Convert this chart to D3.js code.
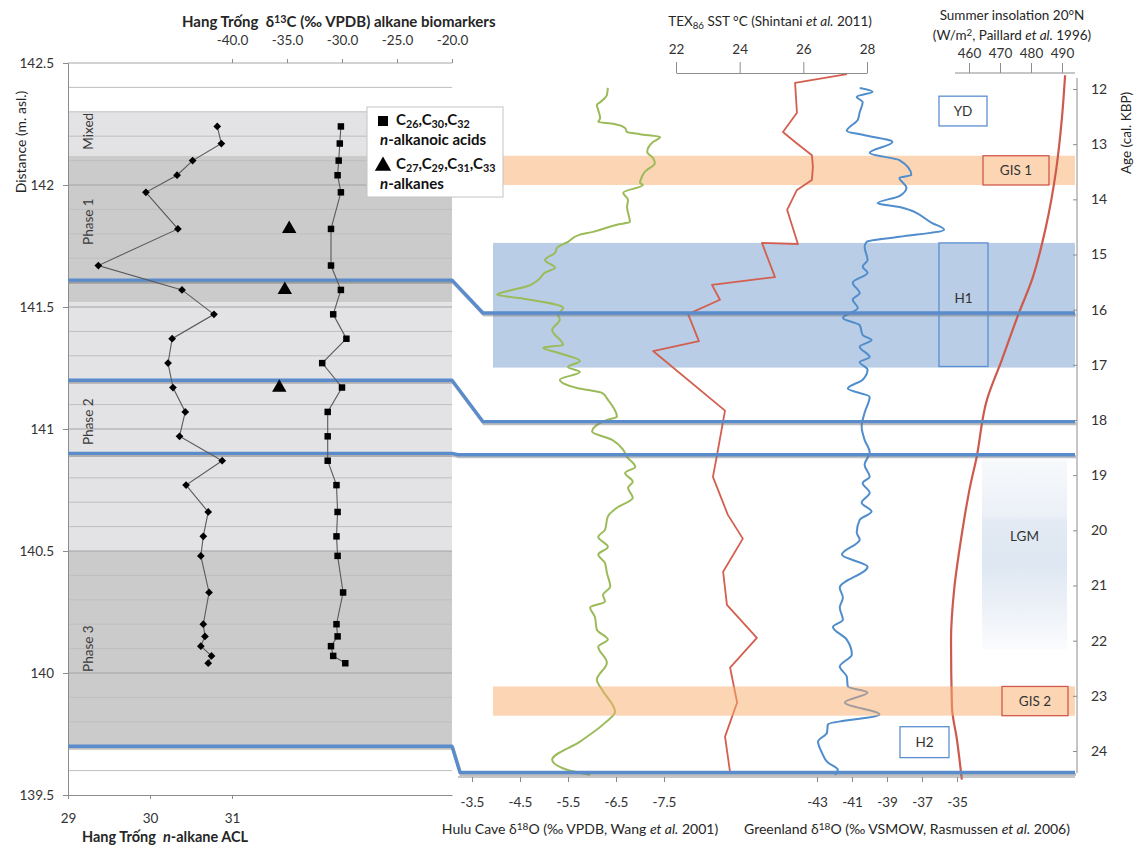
<!DOCTYPE html>
<html>
<head>
<meta charset="utf-8">
<script src="https://cdn.jsdelivr.net/npm/d3@7"></script>
<style>
  body { margin: 0; background: #fff; }
</style>
</head>
<body>
<svg id="chart" width="1135" height="846"></svg>
<script>
// ---------------- data ----------------
// Hang Trong samples (depth in m asl)
var sampleDepth = [142.24, 142.17, 142.10, 142.04, 141.97, 141.82, 141.67, 141.57, 141.47, 141.37,
                   141.27, 141.17, 141.07, 140.97, 140.87, 140.77, 140.66, 140.56, 140.48, 140.33,
                   140.20, 140.15, 140.11, 140.07, 140.04];
var alkaneACL   = [30.82, 30.87, 30.52, 30.33, 29.95, 30.34, 29.37, 30.39, 30.78, 30.27,
                   30.22, 30.28, 30.43, 30.36, 30.88, 30.44, 30.71, 30.65, 30.62, 30.72,
                   30.65, 30.67, 30.62, 30.75, 30.71];
var acidD13C    = [-30.1, -30.2, -30.3, -30.4, -30.1, -31.0, -31.0, -30.1, -30.8, -29.6,
                   -31.8, -30.0, -31.3, -31.3, -31.3, -30.5, -30.4, -30.5, -30.4, -29.9,
                   -30.5, -30.4, -31.0, -30.8, -29.7];
var alkaneDepth = [141.82, 141.57, 141.17];
var alkaneD13C  = [-34.8, -35.2, -35.7];

// stratigraphic units
var unitTop    = [142.30, 142.12, 141.52, 140.50];
var unitBottom = [142.12, 141.52, 140.50, 139.70];
var phaseNames = ["Mixed", "Phase 1", "Phase 2", "Phase 3"];
var phaseLabelDepth = [142.22, 141.85, 141.03, 140.10];

// depth -> age tie lines
var tieDepth = [141.61, 141.20, 140.90, 139.70];
var tieAge   = [16.06, 18.03, 18.63, 24.39];

// Hulu Cave d18O
var huluAge = [11.98,12.11,12.24,12.29,12.38,12.53,12.60,12.63,12.71,12.78,12.82,12.87,12.96,13.14,13.25,
  13.34,13.50,13.59,13.70,13.74,13.88,14.01,14.14,14.41,14.46,14.59,14.64,14.77,14.88,14.97,15.10,15.24,
  15.33,15.46,15.59,15.64,15.73,15.79,15.97,16.09,16.18,16.37,16.64,16.69,16.78,16.93,17.04,17.13,17.27,
  17.42,17.51,17.63,17.94,18.00,18.21,18.36,18.54,18.67,18.85,18.96,19.12,19.23,19.41,19.59,19.75,19.99,
  20.12,20.30,20.44,20.59,20.77,21.02,21.17,21.29,21.40,21.57,21.80,21.98,22.11,22.40,22.71,22.89,23.29,
  23.49,23.83,24.16,24.34,24.43];
var huluD18O = [-6.33,-6.31,-6.17,-6.10,-6.13,-6.17,-6.13,-6.44,-6.69,-6.73,-7.00,-7.42,-7.27,-7.15,-7.27,
  -7.31,-7.10,-7.04,-7.00,-7.06,-6.65,-6.75,-6.73,-6.79,-6.52,-6.02,-5.75,-5.50,-5.27,-5.23,-5.02,-5.23,
  -5.02,-4.88,-4.60,-4.35,-4.02,-4.50,-5.40,-5.29,-5.33,-5.17,-5.40,-4.98,-5.29,-5.75,-5.50,-5.75,-5.33,
  -5.69,-6.21,-6.33,-6.52,-6.31,-6.00,-6.42,-6.65,-6.73,-6.90,-6.69,-6.85,-6.75,-6.85,-6.52,-6.33,-6.27,
  -6.13,-6.33,-6.13,-6.27,-6.31,-6.38,-6.23,-6.27,-5.96,-6.06,-6.10,-6.33,-6.13,-6.31,-6.10,-6.21,-6.48,
  -6.27,-5.75,-5.17,-5.48,-5.96];

// TEX86 SST
var texAge = [11.73,11.89,12.43,12.78,12.96,13.20,13.41,13.65,13.83,14.19,14.81,14.79,15.41,15.55,15.82,
  16.08,16.57,16.75,17.83,18.63,19.03,19.72,20.15,20.75,21.35,21.95,22.49,23.12,23.74,24.39];
var texSST = [27.37,25.74,25.80,25.36,25.74,26.27,26.30,26.27,25.80,25.49,25.83,24.70,25.11,23.13,23.38,
  22.38,22.72,21.28,23.54,23.29,23.16,23.63,24.10,23.48,23.60,24.54,23.70,23.92,23.54,23.70];

// Greenland d18O
var grlAge = [11.98,12.05,12.14,12.24,12.42,12.56,12.76,12.83,12.96,13.16,13.29,13.56,13.61,13.79,13.94,
  14.07,14.14,14.43,14.55,14.68,14.77,14.86,15.10,15.22,15.33,15.51,15.70,15.82,15.97,16.15,16.28,16.46,
  16.55,16.67,16.86,16.95,17.09,17.27,17.43,17.58,17.87,18.12,18.36,18.59,18.81,19.03,19.14,19.32,19.50,
  19.66,19.81,20.04,20.17,20.44,20.66,21.04,21.22,21.40,21.62,21.75,21.98,22.25,22.47,22.65,22.83,22.94,
  23.12,23.34,23.52,23.67,23.83,24.03,24.21,24.34,24.43];
var grlD18O = [-40.56,-39.82,-40.73,-40.39,-40.56,-40.67,-41.30,-40.39,-38.69,-39.99,-38.29,-37.61,-38.29,
  -37.89,-38.29,-39.54,-38.29,-36.42,-35.74,-38.29,-40.16,-40.28,-40.11,-40.39,-40.11,-40.96,-40.56,-40.96,
  -40.67,-41.52,-40.56,-40.39,-39.88,-40.56,-39.99,-40.56,-40.11,-40.39,-41.24,-39.99,-40.28,-40.45,-40.28,
  -39.99,-40.28,-39.99,-40.39,-39.99,-40.45,-39.88,-40.56,-40.73,-40.56,-41.58,-40.11,-41.70,-41.52,-41.70,
  -41.52,-42.09,-41.30,-41.01,-41.70,-41.30,-41.24,-40.11,-41.41,-39.43,-42.38,-42.43,-42.94,-42.72,-42.38,
  -41.81,-41.98];

// summer insolation 20N
var insolAge   = [11.75,12.51,13.47,14.50,15.46,16.06,16.91,17.63,18.72,19.14,20.17,21.08,21.98,23.20,23.79,24.52];
var insolValue = [491.0,490.0,488.1,484.8,480.3,476.1,470.6,465.8,462.3,460.6,457.4,455.2,454.2,454.5,456.1,457.7];

// climate events (ages in ka)
var bandNames  = ["GIS 1", "H1", "GIS 2"];
var bandTop    = [13.21, 14.79, 22.83];
var bandBottom = [13.74, 17.05, 23.36];
var eventNames  = ["YD", "GIS 1", "H1", "LGM", "GIS 2", "H2"];
var eventTop    = [12.13, 13.21, 14.79, 18.72, 22.83, 23.56];
var eventBottom = [12.67, 13.74, 17.03, 22.16, 23.36, 24.12];
var eventLabelAge = [12.40, 13.48, 15.79, 20.12, 23.10, 23.84];

// tick labels
var depthTicks = [139.5, 140, 140.5, 141, 141.5, 142, 142.5];
var aclTicks   = [29, 30, 31];
var d13cTicks  = [-40, -35, -30, -25, -20];
var huluTicks  = [-3.5, -4.5, -5.5, -6.5, -7.5];
var texTicks   = [22, 24, 26, 28];
var grlTicks   = [-43, -41, -39, -37, -35];
var insolTicks = [460, 470, 480, 490];
var ageTicks   = [12, 13, 14, 15, 16, 17, 18, 19, 20, 21, 22, 23, 24];

// ---------------- layout ----------------
var FONT = "Lato, 'Open Sans', sans-serif";
var L0 = 68, L1 = 452;        // left panel x extent
var R0 = 493, R1 = 1075;      // right panel band extent
var tieJoinX = [483, 483, 458, 460];
var eventBoxX = [[939, 987], [983, 1049], [939, 988], [982, 1067], [1002, 1068], [900, 949]];
var eventStyle = ["blue", "red", "open", "lgm", "red", "blue"];
var BLUE = "#5a8ccc", ORANGE = "#fcd6b4";

var svg = d3.select("#chart");
svg.append("rect").attr("width", 1135).attr("height", 846).attr("fill", "#fff");

function rich(sel, parts, subShift) {
  var shift = 0, down = subShift || 3;
  parts.forEach(function(p) {
    var s = sel.append("tspan").text(p.t);
    var target = p.sup ? -4 : (p.sub ? down : 0);
    if (target !== shift) { s.attr("dy", target - shift); shift = target; }
    if (p.sup || p.sub) s.attr("font-size", "0.72em");
    if (p.it) s.attr("font-style", "italic");
  });
  return sel;
}
function label(x, y, opts) {
  return svg.append("text").attr("x", x).attr("y", y)
    .attr("font-family", FONT).attr("font-size", opts.size || 13)
    .attr("font-weight", opts.bold ? "bold" : null)
    .attr("text-anchor", opts.anchor || "middle")
    .attr("fill", opts.fill || "#262626")
    .style("white-space", "pre");
}
function styleAxis(g, keepDomain, size) {
  g.attr("font-family", FONT).attr("font-size", size || 13.5);
  if (!keepDomain) g.select(".domain").remove();
  g.select(".domain").attr("stroke", "#8c8c8c");
  g.selectAll(".tick line").attr("stroke", "#8c8c8c");
  g.selectAll(".tick text").attr("fill", "#333");
}
var plain = function(d) { return String(d); };

// ---------------- scales ----------------
var depthY = d3.scaleLinear().domain([139.5, 142.5]).range([795, 63]);
var aclX = d3.scaleLinear().domain([29, 31]).range([68, 232]);
aclX.domain([29, aclX.invert(L1)]).range([L0, L1]);
var d13cX = d3.scaleLinear().domain([-40, -20]).range([232, 452]);

var ageY   = d3.scaleLinear().domain([12, 24]).range([89, 751]);
var huluX  = d3.scaleLinear().domain([-3.5, -7.5]).range([472, 664]);
var texX   = d3.scaleLinear().domain([22, 28]).range([676, 867]);
var grlX   = d3.scaleLinear().domain([-43, -35]).range([817, 957]);
var insolX = d3.scaleLinear().domain([460, 490]).range([969, 1062]);

// ---------------- left panel ----------------
svg.append("g").selectAll("rect")
  .data(d3.range(unitTop.length))
  .enter().append("rect")
    .attr("x", L0).attr("width", L1 - L0)
    .attr("y", function(i) { return depthY(unitTop[i]); })
    .attr("height", function(i) { return depthY(unitBottom[i]) - depthY(unitTop[i]); })
    .attr("fill", function(i) { return i % 2 ? "#cbcbcb" : "#e3e3e5"; });

var gridVals = d3.range(1, 30).map(function(i) { return +(139.5 + i * 0.1).toFixed(1); });
svg.append("g").selectAll("line")
  .data(gridVals)
  .enter().append("line")
    .attr("x1", L0).attr("x2", L1)
    .attr("y1", function(d) { return depthY(d); })
    .attr("y2", function(d) { return depthY(d); })
    .attr("stroke", function(d) { return Math.abs(d * 2 - Math.round(d * 2)) < 1e-6 ? "#a3a3a3" : "#bfbfbf"; })
    .attr("stroke-width", 1);

svg.append("line").attr("x1", L0).attr("x2", L1).attr("y1", 63).attr("y2", 63).attr("stroke", "#a6a6a6");

var gL = svg.append("g").attr("transform", "translate(" + L0 + ",0)")
  .call(d3.axisLeft(depthY).tickValues(depthTicks).tickSize(5).tickPadding(9).tickFormat(plain));
styleAxis(gL, true);
var gB = svg.append("g").attr("transform", "translate(0,795)")
  .call(d3.axisBottom(aclX).tickValues(aclTicks).tickSize(4).tickSizeOuter(0).tickPadding(14).tickFormat(plain));
styleAxis(gB, true);
var gT = svg.append("g").attr("transform", "translate(0,63)")
  .call(d3.axisTop(d13cX).tickValues(d13cTicks).tickSize(4).tickPadding(14).tickFormat(function(d) { return d.toFixed(1); }));
styleAxis(gT, false);

// phase labels
phaseNames.forEach(function(name, i) {
  label(0, 0, {size: 13.5, fill: "#3a3a3a"})
    .attr("transform", "translate(" + 93 + "," + depthY(phaseLabelDepth[i]) + ") rotate(-90)")
    .text(name);
});

// axis titles
rich(label(182, 27, {bold: true, size: 15, anchor: "start"}), [
  {t: "Hang Trống  δ"}, {t: "13", sup: true}, {t: "C (‰ VPDB) alkane biomarkers"}]);
rich(label(82, 842, {bold: true, size: 14.5, anchor: "start"}), [
  {t: "Hang Trống  "}, {t: "n", it: true}, {t: "-alkane ACL"}]);
label(0, 0, {size: 14}).attr("transform", "translate(26,142) rotate(-90)").text("Distance (m. asl.)");

// ---------------- right panel ----------------
// H1 and GIS 1 bands under the curves
[0, 1].forEach(function(i) {
  svg.append("rect")
    .attr("x", R0).attr("width", R1 - R0)
    .attr("y", ageY(bandTop[i])).attr("height", ageY(bandBottom[i]) - ageY(bandTop[i]))
    .attr("fill", bandNames[i] === "H1" ? "#bacde6" : ORANGE);
});

// LGM gradient
var defs = svg.append("defs");
var grad = defs.append("linearGradient").attr("id", "lgm").attr("x1", 0).attr("x2", 0).attr("y1", 0).attr("y2", 1);
[[0, "#f7f9fc"], [0.3, "#ebf0f7"], [0.32, "#e3eaf3"], [0.55, "#dee7f2"], [0.8, "#eef2f8"], [1, "#fbfcfe"]]
  .forEach(function(s) { grad.append("stop").attr("offset", s[0]).attr("stop-color", s[1]); });

function idx(a, b) { return d3.range(Math.min(a.length, b.length)); }

// insolation
svg.append("path")
  .datum(idx(insolAge, insolValue))
  .attr("d", d3.line().curve(d3.curveMonotoneY)
    .x(function(i) { return insolX(insolValue[i]); })
    .y(function(i) { return ageY(insolAge[i]); }))
  .attr("fill", "none").attr("stroke", "#cd5a4d").attr("stroke-width", 2.2);

// Hulu cave
svg.append("path")
  .datum(idx(huluAge, huluD18O))
  .attr("d", d3.line().curve(d3.curveMonotoneY)
    .x(function(i) { return huluX(huluD18O[i]); })
    .y(function(i) { return ageY(huluAge[i]); }))
  .attr("fill", "none").attr("stroke", "#9bbb59").attr("stroke-width", 2)
  .attr("stroke-linejoin", "round");

// TEX86
svg.append("path")
  .datum(idx(texAge, texSST))
  .attr("d", d3.line()
    .x(function(i) { return texX(texSST[i]); })
    .y(function(i) { return ageY(texAge[i]); }))
  .attr("fill", "none").attr("stroke", "#d35f50").attr("stroke-width", 1.8)
  .attr("stroke-linejoin", "round");

// Greenland
svg.append("path")
  .datum(idx(grlAge, grlD18O))
  .attr("d", d3.line().curve(d3.curveMonotoneY)
    .x(function(i) { return grlX(grlD18O[i]); })
    .y(function(i) { return ageY(grlAge[i]); }))
  .attr("fill", "none").attr("stroke", "#4f8dcc").attr("stroke-width", 2)
  .attr("stroke-linejoin", "round");

// GIS 2 band drawn over the curves (semi-transparent)
svg.append("rect")
  .attr("x", R0).attr("width", R1 - R0)
  .attr("y", ageY(bandTop[2])).attr("height", ageY(bandBottom[2]) - ageY(bandTop[2]))
  .attr("fill", "#f9ac6b").attr("opacity", 0.5);

// right axes
var gTex = svg.append("g").attr("transform", "translate(0,73)")
  .call(d3.axisTop(texX).tickValues(texTicks).tickSize(11).tickSizeOuter(0).tickPadding(8).tickFormat(plain));
styleAxis(gTex, true);

svg.append("line").attr("x1", 955).attr("x2", R1).attr("y1", 73).attr("y2", 73).attr("stroke", "#8c8c8c");
var gIns = svg.append("g").attr("transform", "translate(0,73)")
  .call(d3.axisTop(insolX).tickValues(insolTicks).tickSize(10).tickPadding(5).tickFormat(plain));
styleAxis(gIns, false);

svg.append("line").attr("x1", 1077).attr("x2", 1077).attr("y1", ageY(11.8)).attr("y2", ageY(24.4)).attr("stroke", "#8c8c8c");
var gAge = svg.append("g").attr("transform", "translate(1077,0)")
  .call(d3.axisRight(ageY).tickValues(ageTicks).tickSizeInner(-4).tickSizeOuter(0).tickPadding(14).tickFormat(plain));
styleAxis(gAge, false, 14);

svg.append("line").attr("x1", 458).attr("x2", R1).attr("y1", 777).attr("y2", 777).attr("stroke", "#8c8c8c");
var gHulu = svg.append("g").attr("transform", "translate(0,777)")
  .call(d3.axisBottom(huluX).tickValues(huluTicks).tickSize(5).tickPadding(15).tickFormat(function(d) { return d.toFixed(1); }));
styleAxis(gHulu, false);
var gGrl = svg.append("g").attr("transform", "translate(0,777)")
  .call(d3.axisBottom(grlX).tickValues(grlTicks).tickSize(5).tickPadding(15).tickFormat(plain));
styleAxis(gGrl, false);

// right titles
rich(label(770, 26, {size: 13.5}), [
  {t: "TEX"}, {t: "86", sub: true}, {t: " SST °C (Shintani "}, {t: "et al.", it: true}, {t: " 2011)"}]);
label(1012, 20, {size: 13.5}).text("Summer insolation 20°N");
rich(label(1012, 40, {size: 13.5}), [
  {t: "(W/m"}, {t: "2", sup: true}, {t: ", Paillard "}, {t: "et al.", it: true}, {t: " 1996)"}]);
rich(label(580, 834, {size: 14}), [
  {t: "Hulu Cave δ"}, {t: "18", sup: true}, {t: "O (‰ VPDB, Wang "}, {t: "et al.", it: true}, {t: " 2001)"}]);
rich(label(907, 834, {size: 14}), [
  {t: "Greenland δ"}, {t: "18", sup: true}, {t: "O (‰ VSMOW, Rasmussen "}, {t: "et al.", it: true}, {t: " 2006)"}]);
label(0, 0, {size: 13.5}).attr("transform", "translate(1131,133) rotate(-90)").text("Age (cal. KBP)");

// ---------------- tie lines ----------------
function tiePath(i) {
  var yd = depthY(tieDepth[i]), ya = ageY(tieAge[i]);
  return [[L0, yd], [L1, yd], [tieJoinX[i], ya], [R1, ya]];
}
var tieLine = d3.line();
var ties = svg.append("g");
d3.range(tieDepth.length).forEach(function(i) {
  ties.append("path").attr("d", tieLine(tiePath(i)))
    .attr("transform", "translate(1,2)")
    .attr("fill", "none").attr("stroke", "#6f6f6f").attr("stroke-opacity", 0.45)
    .attr("stroke-width", 3.2);
  ties.append("path").attr("d", tieLine(tiePath(i)))
    .attr("fill", "none").attr("stroke", BLUE).attr("stroke-width", 3.4)
    .attr("stroke-linejoin", "round");
});

// ---------------- left markers ----------------
var idxS = idx(sampleDepth, alkaneACL);
svg.append("path").datum(idxS)
  .attr("d", d3.line().x(function(i) { return aclX(alkaneACL[i]); }).y(function(i) { return depthY(sampleDepth[i]); }))
  .attr("fill", "none").attr("stroke", "#5a5a5a").attr("stroke-width", 1.1);
svg.append("path").datum(idx(sampleDepth, acidD13C))
  .attr("d", d3.line().x(function(i) { return d13cX(acidD13C[i]); }).y(function(i) { return depthY(sampleDepth[i]); }))
  .attr("fill", "none").attr("stroke", "#5a5a5a").attr("stroke-width", 1.1);

svg.append("g").selectAll("path").data(idxS).enter().append("path")
  .attr("d", d3.symbol().type(d3.symbolSquare).size(30))
  .attr("transform", function(i) { return "translate(" + aclX(alkaneACL[i]) + "," + depthY(sampleDepth[i]) + ") rotate(45)"; })
  .attr("fill", "#000");
svg.append("g").selectAll("path").data(idx(sampleDepth, acidD13C)).enter().append("path")
  .attr("d", d3.symbol().type(d3.symbolSquare).size(42))
  .attr("transform", function(i) { return "translate(" + d13cX(acidD13C[i]) + "," + depthY(sampleDepth[i]) + ")"; })
  .attr("fill", "#000");
svg.append("g").selectAll("path").data(idx(alkaneDepth, alkaneD13C)).enter().append("path")
  .attr("d", d3.symbol().type(d3.symbolTriangle).size(90))
  .attr("transform", function(i) { return "translate(" + d13cX(alkaneD13C[i]) + "," + depthY(alkaneDepth[i]) + ")"; })
  .attr("fill", "#000");

// ---------------- event boxes ----------------
eventNames.forEach(function(name, i) {
  var x0 = eventBoxX[i][0], x1 = eventBoxX[i][1];
  var st = eventStyle[i];
  var r = svg.append("rect")
    .attr("x", x0).attr("width", x1 - x0)
    .attr("y", ageY(eventTop[i])).attr("height", ageY(eventBottom[i]) - ageY(eventTop[i]));
  if (st === "blue") r.attr("fill", "#fff").attr("stroke", "#5b8fcf").attr("stroke-width", 1.3);
  else if (st === "red") r.attr("fill", ORANGE).attr("stroke", "#d2584b").attr("stroke-width", 1.3);
  else if (st === "open") r.attr("fill", "none").attr("stroke", "#5b8fcf").attr("stroke-width", 1.3);
  else r.attr("fill", "url(#lgm)");
  label((x0 + x1) / 2, ageY(eventLabelAge[i]) + 4.5, {size: 13.5, fill: "#333"}).text(name);
});

// ---------------- legend ----------------
svg.append("rect").attr("x", 367).attr("y", 107).attr("width", 136).attr("height", 90)
  .attr("fill", "#fff").attr("stroke", "#c4c4c4");
svg.append("path").attr("d", d3.symbol().type(d3.symbolSquare).size(100)())
  .attr("transform", "translate(383,121)").attr("fill", "#000");
svg.append("path").attr("d", d3.symbol().type(d3.symbolTriangle).size(115)())
  .attr("transform", "translate(383,166)").attr("fill", "#000");
rich(label(396, 125, {bold: true, size: 15, anchor: "start", fill: "#111"}), [
  {t: "C"}, {t: "26", sub: true}, {t: ",C"}, {t: "30", sub: true}, {t: ",C"}, {t: "32", sub: true}], 2.5);
rich(label(380, 145, {bold: true, size: 15, anchor: "start", fill: "#111"}), [
  {t: "n", it: true}, {t: "-alkanoic acids"}]);
rich(label(396, 169, {bold: true, size: 15, anchor: "start", fill: "#111"}), [
  {t: "C"}, {t: "27", sub: true}, {t: ",C"}, {t: "29", sub: true}, {t: ",C"}, {t: "31", sub: true}, {t: ",C"}, {t: "33", sub: true}], 2.5);
rich(label(380, 189, {bold: true, size: 15, anchor: "start", fill: "#111"}), [
  {t: "n", it: true}, {t: "-alkanes"}]);
</script>
</body>
</html>
